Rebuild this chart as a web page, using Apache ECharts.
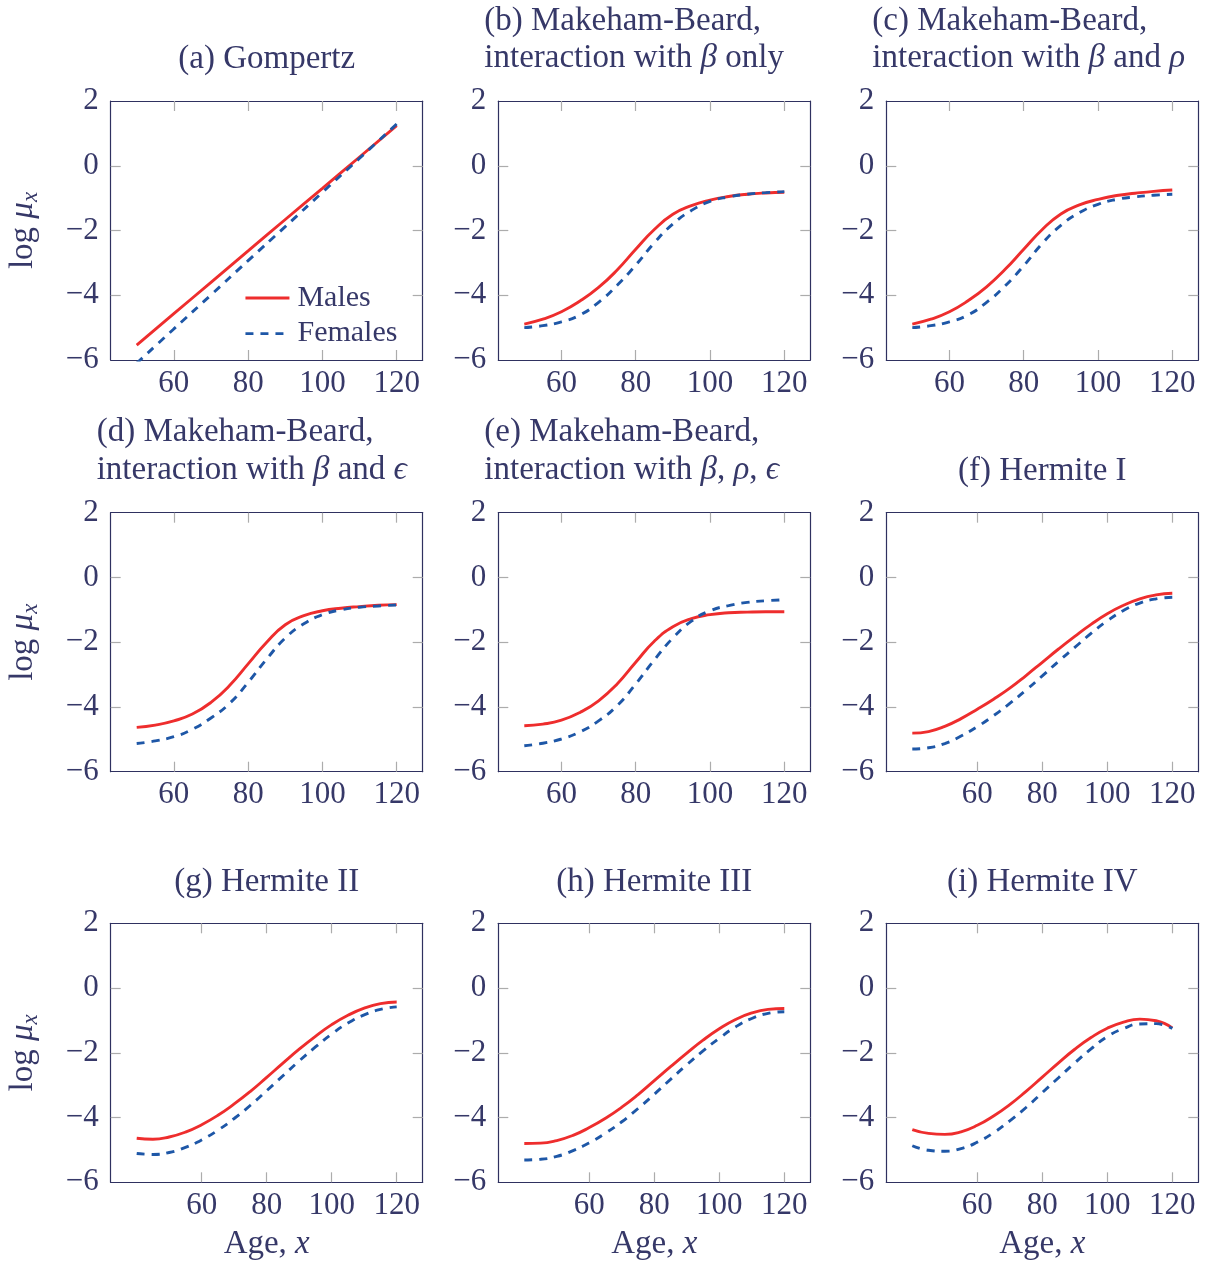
<!DOCTYPE html>
<html>
<head>
<meta charset="utf-8">
<script src="https://cdn.jsdelivr.net/npm/echarts@6/dist/echarts.min.js"></script>
<style>
  html, body { margin: 0; padding: 0; background: #ffffff; }
  #chart { width: 1218px; height: 1266px; }
</style>
</head>
<body>
<div id="chart"></div>
<script>
// Ages at which each fitted curve is evaluated
const agesGompertz = [50, 60, 70, 80, 90, 100, 110, 120];
const ages50 = [50, 55, 60, 65, 70, 75, 80, 85, 90, 95, 100, 105, 110, 115, 120];
const ages40 = [40, 45, 50, 55, 60, 65, 70, 75, 80, 85, 90, 95, 100, 105, 110, 115, 120];

// Tick labels
const xTickValues = [60, 80, 100, 120];
const yTickValues = [-6, -4, -2, 0, 2];

// (a) Gompertz
const gompertzMales   = [-5.54, -4.57, -3.60, -2.63, -1.66, -0.70, 0.27, 1.24];
const gompertzFemales = [-6.10, -5.04, -3.99, -2.93, -1.88, -0.82, 0.23, 1.29];

// (b) Makeham-Beard, interaction with beta only
const mbBetaMales   = [-4.89, -4.74, -4.51, -4.18, -3.76, -3.22, -2.58, -1.97, -1.50, -1.23, -1.06, -0.95, -0.88, -0.84, -0.82];
const mbBetaFemales = [-5.00, -4.94, -4.82, -4.61, -4.22, -3.69, -3.07, -2.38, -1.80, -1.38, -1.10, -0.96, -0.88, -0.83, -0.80];

// (c) Makeham-Beard, interaction with beta and rho
const mbBetaRhoMales   = [-4.89, -4.74, -4.51, -4.17, -3.74, -3.20, -2.58, -1.97, -1.49, -1.21, -1.04, -0.92, -0.85, -0.79, -0.75];
const mbBetaRhoFemales = [-5.00, -4.94, -4.82, -4.61, -4.22, -3.71, -3.09, -2.40, -1.84, -1.45, -1.19, -1.04, -0.96, -0.91, -0.88];

// (d) Makeham-Beard, interaction with beta and epsilon
const mbBetaEpsMales   = [-4.63, -4.56, -4.43, -4.22, -3.86, -3.34, -2.67, -2.00, -1.46, -1.18, -1.03, -0.95, -0.90, -0.86, -0.84];
const mbBetaEpsFemales = [-5.13, -5.05, -4.92, -4.69, -4.34, -3.89, -3.24, -2.52, -1.87, -1.43, -1.15, -1.00, -0.92, -0.88, -0.85];

// (e) Makeham-Beard, interaction with beta, rho, epsilon
const mbAllMales   = [-4.58, -4.53, -4.41, -4.17, -3.81, -3.29, -2.62, -1.97, -1.52, -1.27, -1.15, -1.09, -1.07, -1.06, -1.06];
const mbAllFemales = [-5.20, -5.12, -4.99, -4.77, -4.43, -3.96, -3.29, -2.55, -1.87, -1.35, -1.03, -0.87, -0.77, -0.72, -0.69];

// (f) Hermite I
const hermite1Males   = [-4.81, -4.76, -4.60, -4.36, -4.07, -3.76, -3.42, -3.03, -2.62, -2.21, -1.82, -1.45, -1.12, -0.86, -0.66, -0.54, -0.49];
const hermite1Females = [-5.30, -5.26, -5.13, -4.90, -4.61, -4.27, -3.89, -3.48, -3.04, -2.59, -2.16, -1.73, -1.34, -1.02, -0.79, -0.66, -0.61];

// (g) Hermite II
const hermite2Males   = [-4.64, -4.67, -4.60, -4.45, -4.22, -3.93, -3.58, -3.19, -2.76, -2.32, -1.89, -1.49, -1.13, -0.84, -0.62, -0.48, -0.43];
const hermite2Females = [-5.11, -5.14, -5.08, -4.92, -4.69, -4.39, -4.03, -3.62, -3.17, -2.71, -2.25, -1.82, -1.42, -1.08, -0.83, -0.66, -0.58];

// (h) Hermite III
const hermite3Males   = [-4.80, -4.79, -4.71, -4.55, -4.31, -4.02, -3.68, -3.29, -2.86, -2.43, -2.01, -1.61, -1.26, -0.97, -0.77, -0.66, -0.63];
const hermite3Females = [-5.31, -5.29, -5.20, -5.02, -4.78, -4.48, -4.13, -3.72, -3.28, -2.82, -2.37, -1.94, -1.55, -1.20, -0.94, -0.78, -0.73];

// (i) Hermite IV
const hermite4Males   = [-4.37, -4.49, -4.52, -4.44, -4.24, -3.95, -3.60, -3.19, -2.75, -2.31, -1.89, -1.53, -1.24, -1.05, -0.96, -1.01, -1.23];
const hermite4Females = [-4.87, -5.01, -5.04, -4.96, -4.76, -4.47, -4.10, -3.69, -3.23, -2.77, -2.31, -1.88, -1.50, -1.25, -1.11, -1.10, -1.25];

// Panel table: title text, curves and the age range shown on the axis
const panels = [
  { title: '(a) Gompertz', ages: agesGompertz, males: gompertzMales, females: gompertzFemales, xMin: 43, xMax: 127 },
  { title: '(b) Makeham-Beard,\ninteraction with {m|β} only', ages: ages50, males: mbBetaMales, females: mbBetaFemales, xMin: 43, xMax: 127 },
  { title: '(c) Makeham-Beard,\ninteraction with {m|β} and {m|ρ}', ages: ages50, males: mbBetaRhoMales, females: mbBetaRhoFemales, xMin: 43, xMax: 127 },
  { title: '(d) Makeham-Beard,\ninteraction with {m|β} and {m|ϵ}', ages: ages50, males: mbBetaEpsMales, females: mbBetaEpsFemales, xMin: 43, xMax: 127 },
  { title: '(e) Makeham-Beard,\ninteraction with {m|β}, {m|ρ}, {m|ϵ}', ages: ages50, males: mbAllMales, females: mbAllFemales, xMin: 43, xMax: 127 },
  { title: '(f) Hermite I', ages: ages40, males: hermite1Males, females: hermite1Females, xMin: 32, xMax: 128 },
  { title: '(g) Hermite II', ages: ages40, males: hermite2Males, females: hermite2Females, xMin: 32, xMax: 128 },
  { title: '(h) Hermite III', ages: ages40, males: hermite3Males, females: hermite3Females, xMin: 32, xMax: 128 },
  { title: '(i) Hermite IV', ages: ages40, males: hermite4Males, females: hermite4Females, xMin: 32, xMax: 128 }
];

// Styling
const FONT = "'Liberation Serif', 'DejaVu Serif', serif";
const INK = '#363868';
const FRAME = '#2f3160';
const TICK = '#acacac';
const RED = '#ee2d2d';
const BLUE = '#1e57a7';
const LINE_W = 2.9;
const TICK_LEN = 10;
const TITLE_FS = 33;
const TICK_FS = 31;

// Plot-area layout (3 x 3)
const colLeft = [110.7, 498.3, 886.3];
const rowTop = [101, 512.7, 923.3];
const PW = 312, PH = 259;

const mathRich = {
  m: { fontFamily: FONT, fontStyle: 'italic', fontSize: TITLE_FS, color: INK, lineHeight: 37.5 }
};

const minus = v => String(v).replace('-', '\u2212');

const grids = [], xAxes = [], yAxes = [], series = [], titles = [];

panels.forEach((p, i) => {
  const r = Math.floor(i / 3), c = i % 3;
  const left = colLeft[c], top = rowTop[r];
  grids.push({ left: left, top: top, width: PW, height: PH, show: false, containLabel: false });

  const frame = { show: true, onZero: false, lineStyle: { color: FRAME, width: 1.2 } };
  const xTick = { show: true, inside: true, length: TICK_LEN, customValues: xTickValues, lineStyle: { color: TICK, width: 1.2 } };
  const yTick = { show: true, inside: true, length: TICK_LEN, customValues: [-4, -2, 0], lineStyle: { color: TICK, width: 1.2 } };

  xAxes.push({
    gridIndex: i, type: 'value', position: 'bottom', min: p.xMin, max: p.xMax,
    axisLine: frame, axisTick: xTick, splitLine: { show: false },
    axisLabel: { customValues: xTickValues, margin: 8, fontFamily: FONT, fontSize: TICK_FS, lineHeight: 31, color: INK },
    name: r === 2 ? '{t|Age, }{m|x}' : '',
    nameLocation: 'middle', nameGap: 44,
    nameTextStyle: {
      fontFamily: FONT, fontSize: 33, color: INK, lineHeight: 36,
      rich: {
        t: { fontFamily: FONT, fontSize: 33, color: INK, lineHeight: 36 },
        m: { fontFamily: FONT, fontSize: 33, fontStyle: 'italic', color: INK, lineHeight: 36 }
      }
    }
  });
  xAxes.push({
    gridIndex: i, type: 'value', position: 'top', min: p.xMin, max: p.xMax,
    axisLine: frame, axisTick: xTick, axisLabel: { show: false }, splitLine: { show: false }
  });

  yAxes.push({
    gridIndex: i, type: 'value', position: 'left', min: -6, max: 2, interval: 2,
    axisLine: frame, axisTick: yTick, splitLine: { show: false },
    axisLabel: { customValues: yTickValues, formatter: minus, margin: 12, fontFamily: FONT, fontSize: TICK_FS, color: INK },
    name: c === 0 ? '{t|log }{m|μ}{s|x}' : '',
    nameLocation: 'middle', nameGap: 68, nameRotate: 90,
    nameTextStyle: {
      fontFamily: FONT, fontSize: 33, color: INK, lineHeight: 38,
      rich: {
        t: { fontFamily: FONT, fontSize: 33, color: INK, lineHeight: 38 },
        m: { fontFamily: FONT, fontSize: 33, fontStyle: 'italic', color: INK, lineHeight: 38 },
        s: { fontFamily: FONT, fontSize: 23, fontStyle: 'italic', color: INK, lineHeight: 23, verticalAlign: 'bottom' }
      }
    }
  });
  yAxes.push({
    gridIndex: i, type: 'value', position: 'right', min: -6, max: 2, interval: 2,
    axisLine: frame, axisTick: yTick, axisLabel: { show: false }, splitLine: { show: false }
  });

  series.push({
    type: 'line', name: 'Males', xAxisIndex: 2 * i, yAxisIndex: 2 * i,
    data: p.ages.map((a, k) => [a, p.males[k]]),
    symbol: 'none', showSymbol: false, smooth: 0.5, clip: true,
    lineStyle: { color: RED, width: LINE_W }, itemStyle: { color: RED },
    emphasis: { disabled: true }, z: 2
  });
  series.push({
    type: 'line', name: 'Females', xAxisIndex: 2 * i, yAxisIndex: 2 * i,
    data: p.ages.map((a, k) => [a, p.females[k]]),
    symbol: 'none', showSymbol: false, smooth: 0.5, clip: true,
    lineStyle: { color: BLUE, width: LINE_W, type: [8, 7] }, itemStyle: { color: BLUE },
    emphasis: { disabled: true }, z: 3
  });

  const twoLine = p.title.indexOf('\n') >= 0;
  titles.push({
    text: p.title,
    left: twoLine ? left - 14 : left + PW / 2,
    top: twoLine ? top - 98.9 : top - 60.2,
    textAlign: twoLine ? 'left' : 'center',
    padding: 0,
    textStyle: { fontFamily: FONT, fontSize: TITLE_FS, fontWeight: 'normal', color: INK, lineHeight: 37.5, rich: mathRich }
  });
});

const chart = echarts.init(document.getElementById('chart'), null, { renderer: 'canvas' });
chart.setOption({
  animation: false,
  backgroundColor: '#ffffff',
  title: titles,
  grid: grids,
  xAxis: xAxes,
  yAxis: yAxes,
  legend: {
    data: ['Males', 'Females'],
    orient: 'vertical',
    left: 244, top: 283,
    padding: 0,
    // a near-zero item height keeps the legend key to the bare line sample
    itemWidth: 44, itemHeight: 0.01, itemGap: 5.6,
    selectedMode: false,
    lineStyle: { width: LINE_W },
    textStyle: { fontFamily: FONT, fontSize: 30, lineHeight: 30, color: INK, padding: [0, 0, 0, 3] }
  },
  series: series
});
</script>
</body>
</html>
